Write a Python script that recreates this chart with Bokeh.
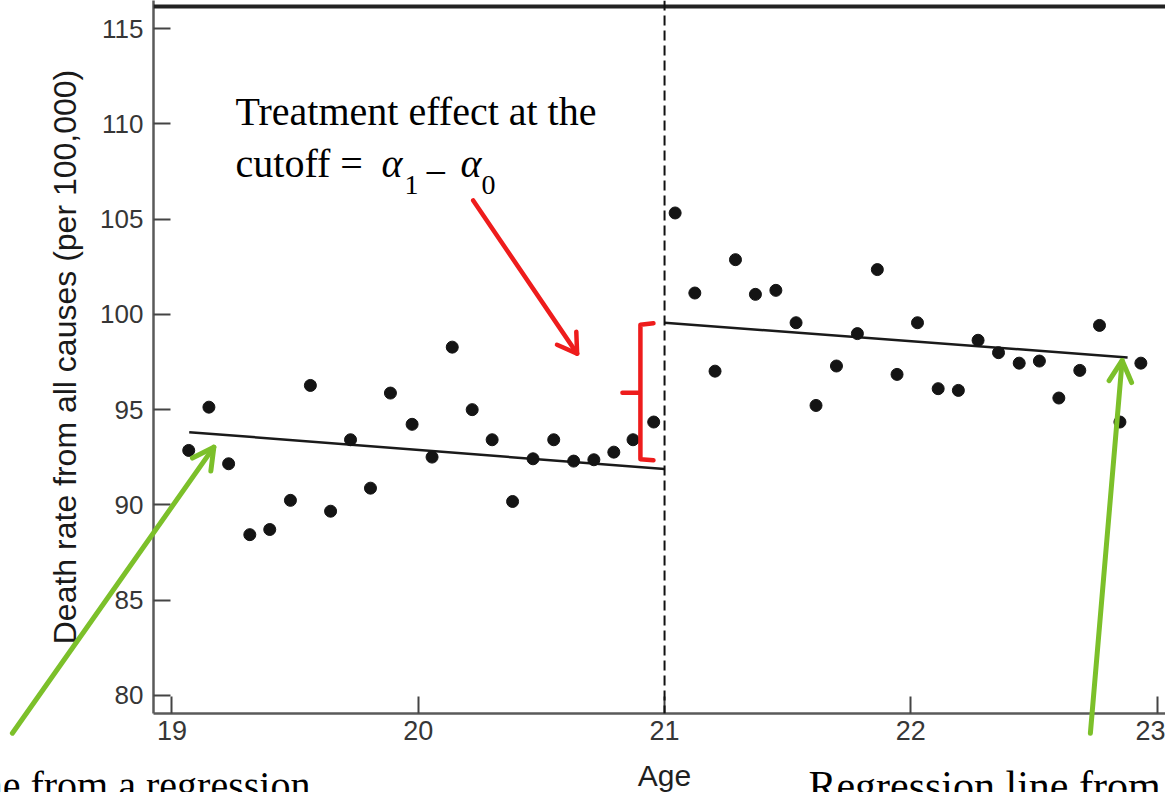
import math

from bokeh.plotting import figure
from bokeh.models import Range1d, FixedTicker, Span, Label
from bokeh.core.properties import value
from bokeh.embed import file_html
from bokeh.resources import INLINE

# Monthly age bins (years) and death rates from all causes (per 100,000)
age_below = [19.068, 19.150, 19.230, 19.316, 19.397, 19.481, 19.562, 19.644,
             19.725, 19.806, 19.887, 19.975, 20.056, 20.138, 20.219, 20.300,
             20.383, 20.466, 20.550, 20.631, 20.713, 20.794, 20.872, 20.956]
rate_below = [92.86, 95.13, 92.16, 88.44, 88.71, 90.24, 96.27, 89.67,
              93.42, 90.88, 95.87, 94.23, 92.51, 98.28, 95.00, 93.42,
              90.18, 92.42, 93.42, 92.30, 92.37, 92.77, 93.42, 94.35]
age_above = [21.043, 21.123, 21.205, 21.288, 21.369, 21.452, 21.534, 21.615,
             21.698, 21.783, 21.864, 21.944, 22.027, 22.111, 22.193, 22.273,
             22.356, 22.440, 22.522, 22.601, 22.686, 22.766, 22.849, 22.934]
rate_above = [105.32, 101.12, 97.02, 102.87, 101.05, 101.26, 99.56, 95.22,
              97.29, 98.99, 102.35, 96.85, 99.56, 96.10, 96.01, 98.64,
              97.99, 97.44, 97.55, 95.61, 97.06, 99.42, 94.35, 97.44]

# Fitted regression lines on each side of the cutoff
fit_age_below = [19.07, 21.0]
fit_rate_below = [93.82, 91.88]
fit_age_above = [21.0, 22.88]
fit_rate_above = [99.56, 97.74]

cutoff = 21
x_ticks = [19, 20, 21, 22, 23]
y_ticks = [80, 85, 90, 95, 100, 105, 110, 115]

X0, X1 = 18.925, 23.034
Y0, Y1 = 79.055, 116.47
FRAME_W, FRAME_H = 1012, 713
PX_X = FRAME_W / (X1 - X0)
PX_Y = FRAME_H / (Y1 - Y0)

p = figure(width=1165, height=792, title=None,
           x_range=Range1d(X0, X1), y_range=Range1d(Y0, Y1),
           output_backend="svg", toolbar_location=None,
           min_border_left=153, min_border_right=0,
           min_border_top=0, min_border_bottom=79)
p.background_fill_color = "white"
p.border_fill_color = "white"
p.outline_line_color = None
p.xgrid.visible = False
p.ygrid.visible = False

for ax in (p.xaxis[0], p.yaxis[0]):
    ax.major_tick_in = 17
    ax.major_tick_out = 0
    ax.minor_tick_line_color = None
    ax.axis_line_color = "#5a5a5a"
    ax.axis_line_width = 2.5
    ax.major_tick_line_color = "#444444"
    ax.major_tick_line_width = 2
    ax.major_label_text_font = "Liberation Sans"
    ax.major_label_text_color = "#363636"

p.xaxis.ticker = FixedTicker(ticks=x_ticks)
p.yaxis.ticker = FixedTicker(ticks=y_ticks)
p.xaxis.major_label_text_font_size = "27px"
p.yaxis.major_label_text_font_size = "26px"
p.xaxis.major_label_standoff = 7
p.yaxis.major_label_standoff = 10
p.yaxis.axis_label = "Death rate from all causes (per 100,000)"
p.yaxis.axis_label_text_font = "Liberation Sans"
p.yaxis.axis_label_text_font_style = "normal"
p.yaxis.axis_label_text_font_size = "32px"
p.yaxis.axis_label_text_color = "#1a1a1a"
p.yaxis.axis_label_standoff = 14

# Heavy top border of the panel
p.add_layout(Span(location=116.16, dimension="width",
                  line_color="#222222", line_width=4))

# Cutoff at age 21
p.add_layout(Span(location=cutoff, dimension="height",
                  line_color="#111111", line_width=2, line_dash="10 5"))

p.line(fit_age_below, fit_rate_below, line_color="#1a1a1a", line_width=2.5)
p.line(fit_age_above, fit_rate_above, line_color="#1a1a1a", line_width=2.5)

p.scatter(age_below, rate_below, size=12, color="#141414")
p.scatter(age_above, rate_above, size=12, color="#141414")


def arrow(x0, y0, x1, y1, color, width, head_len, half_angle):
    """Shaft plus open V head, drawn unclipped so it may leave the frame."""
    dx, dy = (x0 - x1) * PX_X, (y0 - y1) * PX_Y
    n = math.hypot(dx, dy)
    ux, uy = dx / n, dy / n
    head_x, head_y = [], []
    for s in (1, -1):
        a = math.radians(half_angle) * s
        wx = ux * math.cos(a) - uy * math.sin(a)
        wy = ux * math.sin(a) + uy * math.cos(a)
        head_x.append(x1 + head_len * wx / PX_X)
        head_y.append(y1 + head_len * wy / PX_Y)
    p.multi_line(xs=[[x0, x1], [head_x[0], x1, head_x[1]]],
                 ys=[[y0, y1], [head_y[0], y1, head_y[1]]],
                 line_color=color, line_width=width,
                 line_cap="round", line_join="round", level="overlay")


serif = "Liberation Serif"

# Annotation: treatment effect at the cutoff
main_txt = dict(text_font=serif, text_font_size="40px", text_color="black",
                text_baseline="bottom")
sub_txt = dict(text_font=serif, text_font_size="28px", text_color="black",
               text_baseline="bottom")
p.add_layout(Label(x=19.258, y=109.44, text="Treatment effect at the", **main_txt))
p.add_layout(Label(x=19.258, y=106.71, text="cutoff =", **main_txt))
p.add_layout(Label(x=19.851, y=106.71, text="α", text_font_style="italic", **main_txt))
p.add_layout(Label(x=19.944, y=106.30, text="1", **sub_txt))
p.add_layout(Label(x=20.025, y=106.71, text="−", **main_txt))
p.add_layout(Label(x=20.171, y=106.71, text="α", text_font_style="italic", **main_txt))
p.add_layout(Label(x=20.257, y=106.30, text="0", **sub_txt))

red = "#ee1c1c"
arrow(20.223, 105.98, 20.645, 97.94, red, 4.5, 22, 32)

# Brace spanning the jump between the two fitted lines
brace_x = [20.955, 20.902, 20.902, 20.829, 20.902, 20.902, 20.955]
brace_y = [99.53, 99.45, 95.88, 95.88, 95.88, 92.40, 92.34]
p.line(brace_x, brace_y, line_color=red, line_width=4.5,
       line_join="round", line_cap="round")

green = "#7cc02a"
arrow(18.352, 78.02, 19.170, 93.03, green, 5, 24, 28)
arrow(22.729, 78.02, 22.858, 97.58, green, 5, 24, 28)

# Axis title under the age axis
p.text(x=[cutoff], y=[74.96], text=["Age"], text_align="center",
       text_baseline="bottom", text_font=value("Liberation Sans"),
       text_font_size="30px", text_color="#1f1f1f", level="overlay")

# Captions for the two regression lines
p.text(x=[19.562], y=[74.09], text=["Regression line from a regression"],
       text_align="right", text_baseline="bottom",
       text_font=value(serif), text_font_size="40px", text_color="black",
       level="overlay")
p.text(x=[21.584], y=[74.05], text=["Regression line from a regression"],
       text_align="left", text_baseline="bottom",
       text_font=value(serif), text_font_size="42px", text_color="black",
       level="overlay")

open("out.html", "w").write(file_html(p, INLINE))
